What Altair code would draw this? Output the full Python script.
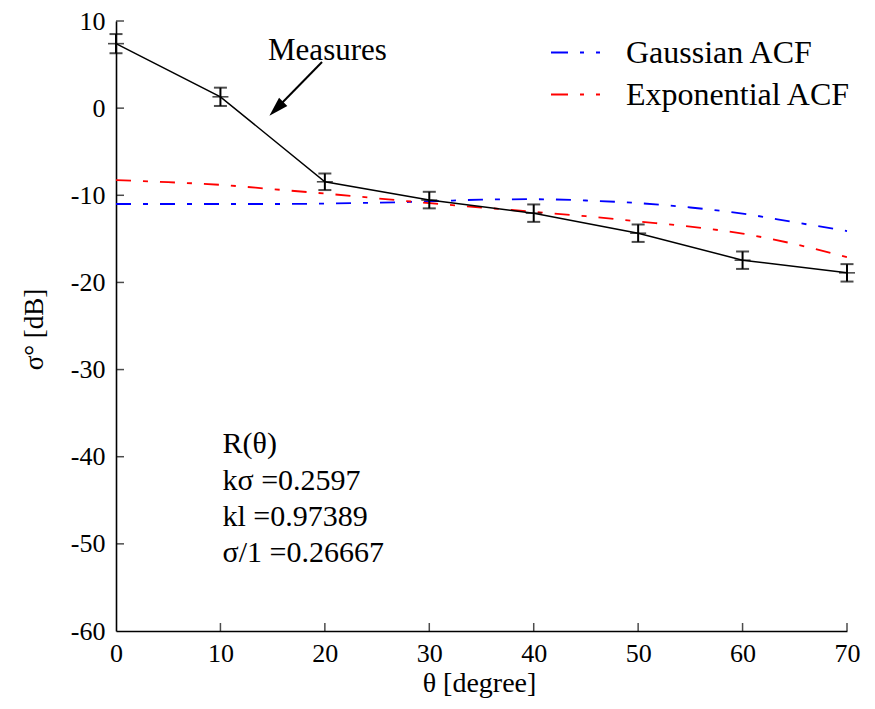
import altair as alt
import pandas as pd

# ---------------- data ----------------
theta_model = [0, 5, 10, 15, 20, 25, 30, 35, 40, 45, 50, 55, 60, 65, 70]
gaussian = [-11.0, -11.0, -11.0, -11.0, -10.95, -10.85, -10.7, -10.5, -10.45,
            -10.6, -10.9, -11.4, -12.1, -13.1, -14.1]
exponential = [-8.25, -8.5, -8.8, -9.3, -9.8, -10.35, -10.9, -11.4, -11.9,
               -12.4, -13.0, -13.6, -14.4, -15.6, -17.1]
series_names = ["Gaussian ACF", "Exponential ACF"]
series_colors = ["#0000ff", "#ff0000"]

theta_meas = [0, 10, 20, 30, 40, 50, 60, 70]
sigma_meas = [7.4, 1.3, -8.45, -10.55, -12.05, -14.35, -17.45, -18.9]
sigma_err = [1.1, 1.05, 0.95, 0.95, 1.0, 1.0, 1.0, 1.0]

x_tick_values = [0, 10, 20, 30, 40, 50, 60, 70]
y_tick_values = [-60, -50, -40, -30, -20, -10, 0, 10]
x_inner_ticks = [10, 20, 30, 40, 50, 60, 70]
y_inner_ticks = [-50, -40, -30, -20, -10, 0, 10]

label_text = ["Measures"]
label_theta = [14.56]
label_sigma = [5.52]
arrow_tail = [19.73, 5.29]
arrow_head = [15.35, -0.07]

info_lines = ["R(θ)", "kσ =0.2597", "kl =0.97389", "σ/1 =0.26667"]
info_theta = [10.2, 10.2, 10.2, 10.2]
info_sigma = [-38.5, -42.8, -46.9, -51.05]

FONT = "Liberation Serif"

# ---------------- tables ----------------
model_df = pd.DataFrame({
    "theta": theta_model * 2,
    "sigma": gaussian + exponential,
    "series": [series_names[0]] * len(theta_model) + [series_names[1]] * len(theta_model),
})
meas_df = pd.DataFrame({"theta": theta_meas, "sigma": sigma_meas, "err": sigma_err})
meas_df["lo"] = meas_df["sigma"] - meas_df["err"]
meas_df["hi"] = meas_df["sigma"] + meas_df["err"]
caps_df = pd.DataFrame({
    "theta": theta_meas * 2,
    "cap": list(meas_df["lo"]) + list(meas_df["hi"]),
})
xt_df = pd.DataFrame({"theta": x_inner_ticks})
yt_df = pd.DataFrame({"sigma": y_inner_ticks})
label_df = pd.DataFrame({"text": label_text, "theta": label_theta, "sigma": label_sigma})
arrow_df = pd.DataFrame({"theta": [arrow_tail[0]], "sigma": [arrow_tail[1]],
                         "theta2": [arrow_head[0]], "sigma2": [arrow_head[1]]})
info_df = pd.DataFrame({"text": info_lines, "theta": info_theta, "sigma": info_sigma})

xs = alt.Scale(domain=[0, 70], nice=False, zero=False)
ys = alt.Scale(domain=[-60, 10], nice=False, zero=False)

x_axis = alt.Axis(values=x_tick_values, ticks=False, grid=False,
                  domainColor="black", domainWidth=1.6,
                  labelFont=FONT, labelFontSize=26, labelColor="black",
                  labelPadding=9, labelFlush=False, labelOverlap=False,
                  labelExpr="'' + datum.value",
                  title="θ [degree]", titleFont=FONT, titleFontSize=28,
                  titleFontWeight="normal", titleColor="black",
                  titleX=363, titleY=52, titleBaseline="middle")
y_axis = alt.Axis(values=y_tick_values, ticks=False, grid=False,
                  domainColor="black", domainWidth=1.6,
                  labelFont=FONT, labelFontSize=26, labelColor="black",
                  labelPadding=11, labelFlush=False, labelOverlap=False,
                  labelExpr="'' + datum.value",
                  title="σ° [dB]", titleFont=FONT, titleFontSize=27,
                  titleFontWeight="normal", titleColor="black",
                  titleX=-82, titleY=308, titleBaseline="middle", titleAngle=270)

X = alt.X("theta:Q", scale=xs, axis=x_axis)
Y = alt.Y("sigma:Q", scale=ys, axis=y_axis)

dash = [15, 12, 5, 12]

models = alt.Chart(model_df).mark_line(strokeWidth=1.8, strokeDash=dash, interpolate="monotone").encode(
    x=X, y=Y,
    color=alt.Color("series:N", scale=alt.Scale(domain=series_names, range=series_colors),
                    legend=alt.Legend(orient="none", legendX=434, legendY=6, title=None,
                                      labelFont=FONT, labelFontSize=32, labelColor="black",
                                      symbolType="stroke", symbolSize=2401,
                                      symbolStrokeWidth=2, symbolDash=[17, 12, 4, 12],
                                      labelOffset=25, rowPadding=0, padding=0,
                                      labelLimit=0)),
    detail="series:N",
)

meas_line = alt.Chart(meas_df).mark_line(color="black", strokeWidth=1.5).encode(
    x=alt.X("theta:Q", scale=xs), y=alt.Y("sigma:Q", scale=ys))
meas_marks = alt.Chart(meas_df).mark_tick(color="black", orient="horizontal", size=16, thickness=1.6).encode(
    x=alt.X("theta:Q", scale=xs), y=alt.Y("sigma:Q", scale=ys))
err_rules = alt.Chart(meas_df).mark_rule(color="black", strokeWidth=2).encode(
    x=alt.X("theta:Q", scale=xs), y=alt.Y("lo:Q", scale=ys), y2="hi:Q")
err_caps = alt.Chart(caps_df).mark_tick(color="black", orient="horizontal", size=13, thickness=2).encode(
    x=alt.X("theta:Q", scale=xs), y=alt.Y("cap:Q", scale=ys))

x_ticks_layer = alt.Chart(xt_df).mark_tick(color="black", orient="vertical", size=8, thickness=1.5, yOffset=-4).encode(
    x=alt.X("theta:Q", scale=xs), y=alt.datum(-60))
y_ticks_layer = alt.Chart(yt_df).mark_tick(color="black", orient="horizontal", size=8, thickness=1.5, xOffset=4).encode(
    y=alt.Y("sigma:Q", scale=ys), x=alt.datum(0))

label_layer = alt.Chart(label_df).mark_text(font=FONT, fontSize=31, align="left", baseline="alphabetic", color="black").encode(
    x=alt.X("theta:Q", scale=xs), y=alt.Y("sigma:Q", scale=ys), text="text:N")
arrow_line = alt.Chart(arrow_df).mark_rule(color="black", strokeWidth=2).encode(
    x=alt.X("theta:Q", scale=xs), y=alt.Y("sigma:Q", scale=ys), x2="theta2:Q", y2="sigma2:Q")
arrow_headmark = alt.Chart(arrow_df).mark_point(shape="M0,-1L0.6,1L-0.6,1Z", filled=True, color="black",
                                                opacity=1, size=380, angle=225).encode(
    x=alt.X("theta2:Q", scale=xs), y=alt.Y("sigma2:Q", scale=ys))

info_layer = alt.Chart(info_df).mark_text(font=FONT, fontSize=30, align="left", baseline="middle", color="black").encode(
    x=alt.X("theta:Q", scale=xs), y=alt.Y("sigma:Q", scale=ys), text="text:N")

chart = alt.layer(
    models, meas_line, err_rules, err_caps, meas_marks,
    x_ticks_layer, y_ticks_layer, label_layer, arrow_line, arrow_headmark, info_layer,
).properties(
    width=731, height=610,
    autosize=alt.AutoSizeParams(type="none"),
    padding={"left": 108, "top": 13, "right": 20, "bottom": 70},
    background="white",
).configure_view(stroke=None).configure_axis(
    labelFont=FONT, titleFont=FONT
).configure_legend(labelFont=FONT).configure_text(font=FONT)

chart.save("out.html", embed_options={"renderer": "svg", "actions": False})
